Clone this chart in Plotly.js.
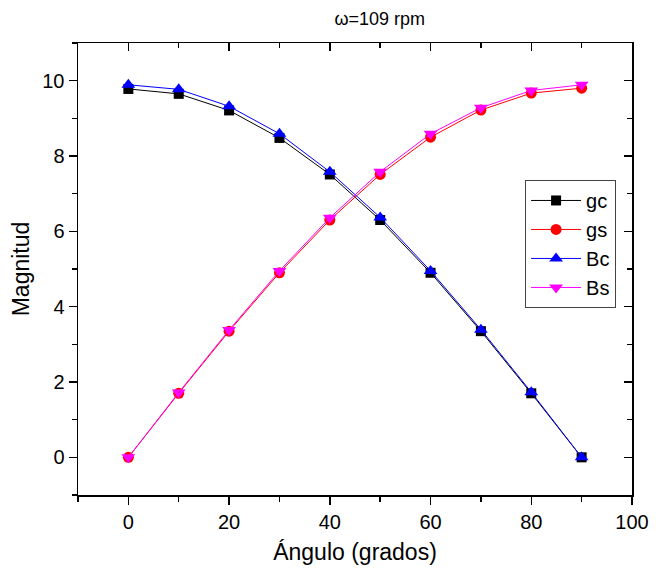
<!DOCTYPE html>
<html>
<head>
<meta charset="utf-8">
<script src="https://cdn.plot.ly/plotly-3.0.1.min.js"></script>
<style>html,body{margin:0;padding:0;background:#fff;}</style>
</head>
<body>
<div id="chart" style="width:656px;height:572px;"></div>
<script>
const angles = [0, 10, 20, 30, 40, 50, 60, 70, 80, 90];
const gc = [9.78, 9.65, 9.21, 8.48, 7.51, 6.30, 4.90, 3.35, 1.70, 0.00];
const gs = [0.00, 1.70, 3.35, 4.90, 6.30, 7.51, 8.50, 9.22, 9.67, 9.80];
const Bc = [9.89, 9.77, 9.32, 8.59, 7.58, 6.37, 4.95, 3.39, 1.73, 0.00];
const Bs = [0.00, 1.72, 3.38, 4.95, 6.36, 7.58, 8.59, 9.28, 9.74, 9.89];
const names = ['gc', 'gs', 'Bc', 'Bs'];

const font = 'Liberation Sans, Arial, sans-serif';
function tr(name, y, color, symbol, size) {
  return {x: angles, y: y, name: name, type: 'scatter', mode: 'lines+markers',
    line: {color: color, width: 1}, marker: {color: color, symbol: symbol, size: size}};
}
const data = [
  tr(names[0], gc, '#000000', 'square', 10),
  tr(names[1], gs, '#ff0000', 'circle', 11),
  tr(names[2], Bc, '#0000ff', 'triangle-up', 12),
  tr(names[3], Bs, '#ff00ff', 'triangle-down', 12),
  {x: [], y: [], xaxis: 'x2', yaxis: 'y2', showlegend: false, hoverinfo: 'skip'}
];
const axBase = {showgrid: false, zeroline: false, showline: true, linecolor: '#000', linewidth: 1.5,
  tickcolor: '#000', tickwidth: 1.5, tickfont: {family: font, size: 20, color: '#000'}};
const layout = {
  width: 656, height: 572,
  margin: {l: 78, r: 24, t: 43, b: 77},
  paper_bgcolor: '#fff', plot_bgcolor: '#fff',
  title: {text: 'ω=109 rpm', font: {family: font, size: 18, color: '#000'}, x: 0.579, xref: 'container', xanchor: 'center', y: 0.968, yanchor: 'middle'},
  xaxis: Object.assign({}, axBase, {range: [-10, 100], tick0: 0, dtick: 20, ticks: 'outside', ticklen: 8,
    minor: {dtick: 10, tick0: 0, ticks: 'outside', ticklen: 5, tickcolor: '#000', tickwidth: 1.5},
    title: {text: 'Ángulo (grados)', font: {family: font, size: 23, color: '#000'}, standoff: 12}}),
  yaxis: Object.assign({}, axBase, {range: [-1, 11], tick0: 0, dtick: 2, ticks: 'outside', ticklen: 8,
    minor: {dtick: 1, tick0: 0, ticks: 'outside', ticklen: 5, tickcolor: '#000', tickwidth: 1.5},
    title: {text: 'Magnitud', font: {family: font, size: 23, color: '#000'}, standoff: 6}}),
  xaxis2: Object.assign({}, axBase, {overlaying: 'x', side: 'top', anchor: 'y2', range: [-10, 100], tick0: 0, dtick: 20,
    ticks: 'inside', ticklen: 8, showticklabels: false,
    minor: {dtick: 10, tick0: 0, ticks: 'inside', ticklen: 5, tickcolor: '#000', tickwidth: 1.5}}),
  yaxis2: Object.assign({}, axBase, {overlaying: 'y', side: 'right', anchor: 'x2', range: [-1, 11], tick0: 0, dtick: 2,
    ticks: 'inside', ticklen: 8, showticklabels: false,
    minor: {dtick: 1, tick0: 0, ticks: 'inside', ticklen: 5, tickcolor: '#000', tickwidth: 1.5}}),
  legend: {x: 0.807, y: 0.697, xanchor: 'left', yanchor: 'top', bgcolor: '#fff', bordercolor: '#444', borderwidth: 1,
    font: {family: font, size: 20, color: '#000'}, tracegroupgap: 0, itemwidth: 50},
  showlegend: true
};
Plotly.newPlot('chart', data, layout, {displayModeBar: false, staticPlot: true});
</script>
</body>
</html>
